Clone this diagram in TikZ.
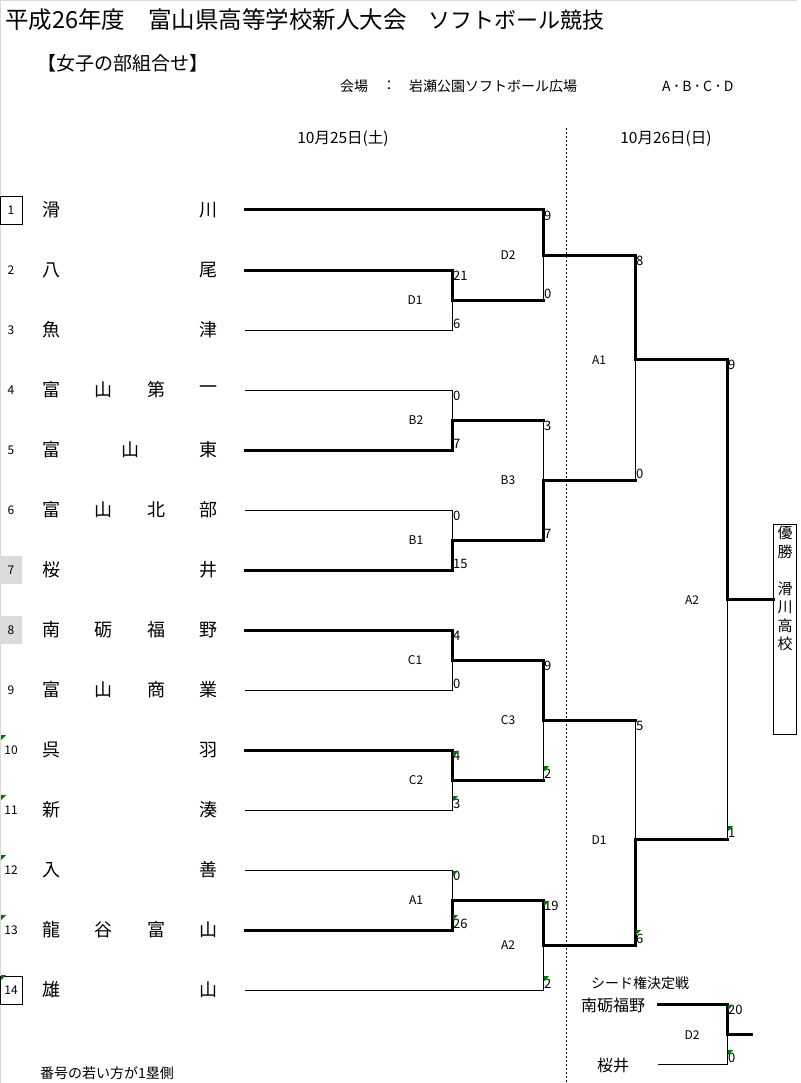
\documentclass[tikz,border=0pt]{standalone}
\usepackage{fontspec}
\setmainfont{Noto Sans CJK JP}
\newcommand\greenmark[2]{\fill[gmark] (#1,#2) -- ++(5,0) -- ++(-5,5) -- cycle;}
\begin{document}
\begin{tikzpicture}[x=1pt,y=-1pt,
  thk/.style={line width=3pt,line cap=rect},
  thn/.style={line width=0.9pt},
  tname/.style={font=\fontsize{18}{18}\selectfont, inner sep=0pt},
  num/.style={font=\fontsize{12}{12}\selectfont, inner sep=0pt, minimum width=22pt, minimum height=28pt},
  sc/.style={font=\fontsize{13}{13}\selectfont, inner sep=1pt},
  scb/.style={sc, anchor=south west},
  sct/.style={sc, anchor=north west},
  mlab/.style={font=\fontsize{12}{12}\selectfont, inner sep=0pt},
  ttl/.style={font=\fontsize{23.5}{23.5}\selectfont, inner sep=0pt, anchor=west},
  small/.style={font=\fontsize{14}{14}\selectfont, inner sep=0pt},
  gmark/.style={fill=green!45!black},
  win/.style={font=\fontsize{15}{15}\selectfont, inner sep=0pt},
]
\useasboundingbox (0,0) rectangle (800,1083);
\fill[white] (0,0) rectangle (800,1083);
\draw[gray!30, line width=1.2pt] (0.6,0) -- (0.6,1083);
\draw[gray!30, line width=1pt] (0,0.5) -- (797,0.5);

% titles
\node[ttl] (ti1) at (5,20) {平成26年度};
\node[ttl] (ti2) at (148,20) {富山県高等学校新人大会};
\node[ttl, font=\fontsize{22}{22}\selectfont] (ti3) at (428,20) {ソフトボール競技};
\node[font=\fontsize{19}{19}\selectfont, inner sep=0pt, anchor=west] (sub) at (37,63) {【女子の部組合せ】};
\node[small, anchor=west] (v1) at (340,86) {会場};
\node[small] (v2) at (389,86) {：};
\node[small, anchor=west] (v3) at (409,86) {岩瀬公園ソフトボール広場};
\node[small, anchor=west] (v4) at (662,86) {A\,･\,B\,･\,C\,･\,D};
\node[small, font=\fontsize{15.5}{15.5}\selectfont] (d1) at (343,139) {10月25日(土)};
\node[small, font=\fontsize{15.5}{15.5}\selectfont] (d2) at (666,139) {10月26日(日)};
\draw[thn, dash pattern=on 2pt off 2pt] (566,128) -- (566,1083);

% number column
\node[num, draw, line width=0.8pt] (k1) at (11,210) {1};
\node[num] (k2) at (11,270) {2};
\node[num] (k3) at (11,330) {3};
\node[num] (k4) at (11,390) {4};
\node[num] (k5) at (11,450) {5};
\node[num] (k6) at (11,510) {6};
\node[num, fill=gray!28] (k7) at (11,570) {7};
\node[num, fill=gray!28] (k8) at (11,630) {8};
\node[num] (k9) at (11,690) {9};
\node[num] (k10) at (11,750) {10};
\node[num] (k11) at (11,810) {11};
\node[num] (k12) at (11,870) {12};
\node[num] (k13) at (11,930) {13};
\node[num, draw, line width=0.8pt] (k14) at (11,990) {14};
\greenmark{1}{735}\greenmark{1}{795}\greenmark{1}{855}\greenmark{1}{915}\greenmark{1}{975}

% team names
\node[tname] (a1) at (51,210) {滑}; \node[tname] (b1) at (208,210) {川};
\node[tname] (a2) at (51,270) {八}; \node[tname] (b2) at (208,270) {尾};
\node[tname] (a3) at (51,330) {魚}; \node[tname] (b3) at (208,330) {津};
\node[tname] (a4) at (51,390) {富}; \node[tname] (c4) at (103,390) {山}; \node[tname] (e4) at (156,390) {第}; \node[tname] (b4) at (208,390) {一};
\node[tname] (a5) at (51,450) {富}; \node[tname] (c5) at (130,450) {山}; \node[tname] (b5) at (208,450) {東};
\node[tname] (a6) at (51,510) {富}; \node[tname] (c6) at (103,510) {山}; \node[tname] (e6) at (156,510) {北}; \node[tname] (b6) at (208,510) {部};
\node[tname] (a7) at (51,570) {桜}; \node[tname] (b7) at (208,570) {井};
\node[tname] (a8) at (51,630) {南}; \node[tname] (c8) at (103,630) {砺}; \node[tname] (e8) at (156,630) {福}; \node[tname] (b8) at (208,630) {野};
\node[tname] (a9) at (51,690) {富}; \node[tname] (c9) at (103,690) {山}; \node[tname] (e9) at (156,690) {商}; \node[tname] (b9) at (208,690) {業};
\node[tname] (a10) at (51,750) {呉}; \node[tname] (b10) at (208,750) {羽};
\node[tname] (a11) at (51,810) {新}; \node[tname] (b11) at (208,810) {湊};
\node[tname] (a12) at (51,870) {入}; \node[tname] (b12) at (208,870) {善};
\node[tname] (a13) at (51,930) {龍}; \node[tname] (c13) at (103,930) {谷}; \node[tname] (e13) at (156,930) {富}; \node[tname] (b13) at (208,930) {山};
\node[tname] (a14) at (51,990) {雄}; \node[tname] (b14) at (208,990) {山};

% coordinates
\foreach \i in {1,...,14} \coordinate (t\i) at (245,150+60*\i);
\coordinate (mD1) at (452,300); \coordinate (mB2) at (452,420);
\coordinate (mB1) at (452,540); \coordinate (mC1) at (452,660);
\coordinate (mC2) at (452,780); \coordinate (mA1) at (452,900);
\coordinate (mD2) at (543,255); \coordinate (mB3) at (543,480);
\coordinate (mC3) at (543,720); \coordinate (mA2) at (543,945);
\coordinate (nA1) at (635,359); \coordinate (nD1) at (635,839);
\coordinate (fA2) at (727,599);

% round 1
\draw[thk] (t2) -| (mD1); \draw[thn] (t3) -| (mD1);
\draw[thn] (t4) -| (mB2); \draw[thk] (t5) -| (mB2);
\draw[thn] (t6) -| (mB1); \draw[thk] (t7) -| (mB1);
\draw[thk] (t8) -| (mC1); \draw[thn] (t9) -| (mC1);
\draw[thk] (t10) -| (mC2); \draw[thn] (t11) -| (mC2);
\draw[thn] (t12) -| (mA1); \draw[thk] (t13) -| (mA1);
% round 2
\draw[thk] (t1) -| (mD2);
\draw[thk] (mD1) -- (mD1 -| mD2); \draw[thn] (mD1 -| mD2) -- (mD2);
\draw[thk] (mB2) -- (mB2 -| mB3); \draw[thn] (mB2 -| mB3) -- (mB3);
\draw[thk] (mB1) -| (mB3);
\draw[thk] (mC1) -| (mC3);
\draw[thk] (mC2) -- (mC2 -| mC3); \draw[thn] (mC2 -| mC3) -- (mC3);
\draw[thk] (mA1) -| (mA2);
\draw[thn] (t14) -| (mA2);
% round 3
\draw[thk] (mD2) -| (nA1);
\draw[thk] (mB3) -- (mB3 -| nA1); \draw[thn] (mB3 -| nA1) -- (nA1);
\draw[thk] (mC3) -- (mC3 -| nD1); \draw[thn] (mC3 -| nD1) -- (nD1);
\draw[thk] (mA2) -| (nD1);
% final
\draw[thk] (nA1) -| (fA2);
\draw[thk] (nD1) -- (nD1 -| fA2); \draw[thn] (nD1 -| fA2) -- (fA2);

% winner box
\node[draw, line width=0.8pt, minimum width=23pt, minimum height=210pt, inner sep=0pt, anchor=north west] (wbox) at (773,524) {};
\draw[thk] (fA2) -- (fA2 -| wbox.west);
\node[win] (w1) at (785,533) {優};
\node[win] (w2) at (785,551.5) {勝};
\node[win] (w3) at (785,588.5) {滑};
\node[win] (w4) at (785,607) {川};
\node[win] (w5) at (785,625.5) {高};
\node[win] (w6) at (785,644) {校};

% match labels
\node[mlab] (lD1) at (415,300) {D1};
\node[mlab] (lB2) at (416,420) {B2};
\node[mlab] (lB1) at (416,540) {B1};
\node[mlab] (lC1) at (415,660) {C1};
\node[mlab] (lC2) at (416,780) {C2};
\node[mlab] (lA1) at (416,900) {A1};
\node[mlab] (lD2) at (508,255) {D2};
\node[mlab] (lB3) at (508,480) {B3};
\node[mlab] (lC3) at (508,720) {C3};
\node[mlab] (lA2) at (508,945) {A2};
\node[mlab] (lA1b) at (599,360) {A1};
\node[mlab] (lD1b) at (599,840) {D1};
\node[mlab] (lA2b) at (692,600) {A2};

% scores round 1
\node[sct] (s1) at (452,270) {21}; \node[scb] (s2) at (452,330) {6};
\node[sct] (s3) at (452,390) {0};  \node[scb] (s4) at (452,450) {7};
\node[sct] (s5) at (452,510) {0};  \node[scb] (s6) at (452,570) {15};
\node[sct] (s7) at (452,630) {4};  \node[scb] (s8) at (452,690) {0};
\node[sct] (s9) at (452,750) {4};  \node[scb] (s10) at (452,810) {3};
\node[sct] (s11) at (452,870) {0}; \node[scb] (s12) at (452,930) {26};
% round 2
\node[sct] (s13) at (543,210) {9}; \node[scb] (s14) at (543,300) {0};
\node[sct] (s15) at (543,420) {3}; \node[scb] (s16) at (543,540) {7};
\node[sct] (s17) at (543,660) {9}; \node[scb] (s18) at (543,780) {2};
\node[sct] (s19) at (543,900) {19}; \node[scb] (s20) at (543,990) {2};
% round 3
\node[sct] (s21) at (635,255) {8}; \node[scb] (s22) at (635,480) {0};
\node[sct] (s23) at (635,720) {5}; \node[scb] (s24) at (635,945) {6};
% final
\node[sct] (s25) at (727,359) {9}; \node[scb] (s26) at (727,839) {1};

\greenmark{453}{751}\greenmark{453}{796}\greenmark{544}{766}
\greenmark{453}{871}\greenmark{453}{915}\greenmark{544}{901}\greenmark{544}{976}
\greenmark{636}{930}\greenmark{728}{826}

% seed decision
\node[font=\fontsize{14}{14}\selectfont, inner sep=0pt, anchor=west] (sd) at (591,983) {シード権決定戦};
\node[font=\fontsize{16}{16}\selectfont, inner sep=0pt, anchor=west] (sdA) at (581,1005) {南砺福野};
\node[font=\fontsize{16}{16}\selectfont, inner sep=0pt, anchor=west] (sdB) at (597,1065) {桜井};
\coordinate (sa) at (658,1004); \coordinate (sb) at (658,1064);
\coordinate (sm) at (727,1034); \coordinate (so) at (751,1034);
\draw[thk] (sa) -| (sm); \draw[thn] (sb) -| (sm);
\draw[thk] (sm) -- (so);
\node[mlab] (lD2s) at (692,1035) {D2};
\node[sct] (s27) at (727,1004) {20}; \node[scb] (s28) at (727,1064) {0};
\greenmark{728}{1005}\greenmark{728}{1050}

\node[font=\fontsize{14}{14}\selectfont, inner sep=0pt, anchor=west] (note) at (40,1073) {番号の若い方が1塁側};
\end{tikzpicture}
\end{document}
